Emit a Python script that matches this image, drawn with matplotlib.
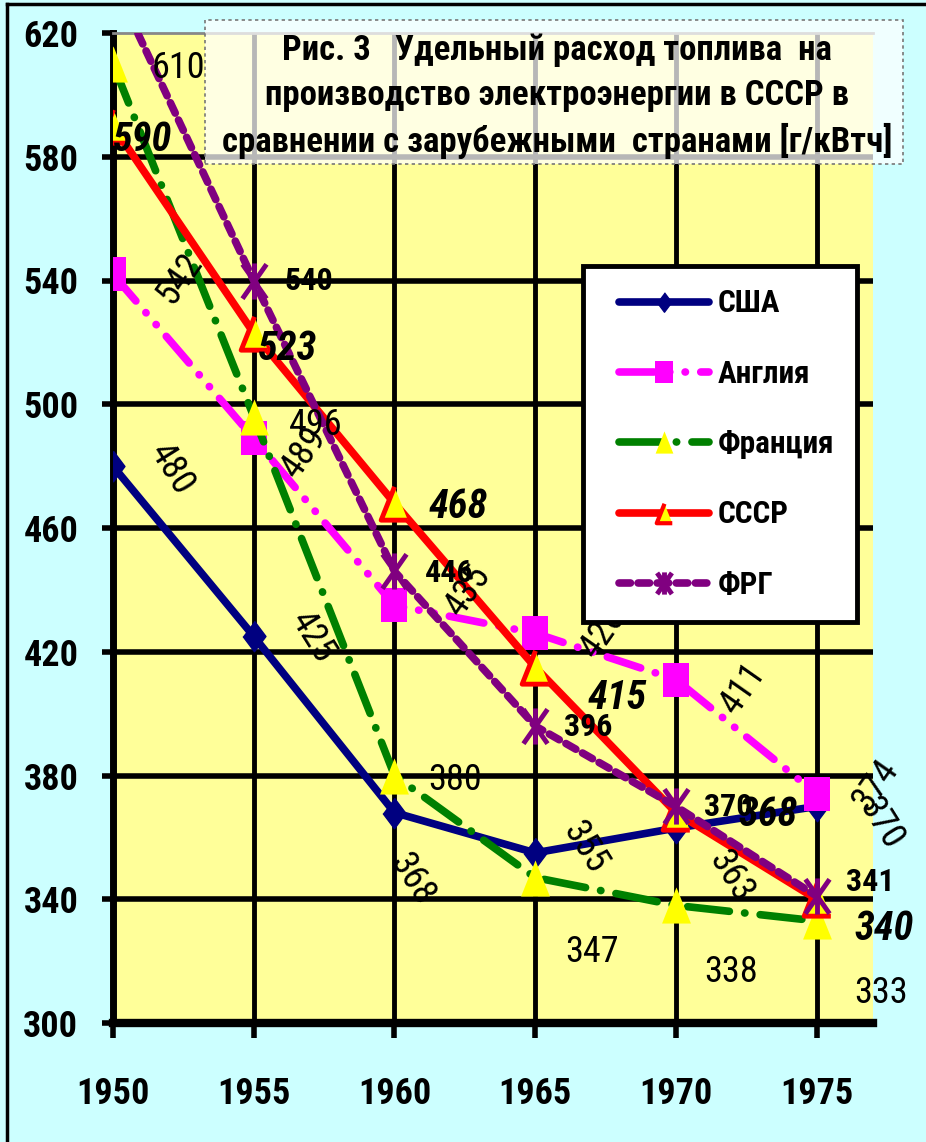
import os
import matplotlib
matplotlib.use("Agg")
import matplotlib.pyplot as plt
from matplotlib import font_manager as fm
from matplotlib.path import Path
from matplotlib.patches import Rectangle
from matplotlib.lines import Line2D
from matplotlib.legend_handler import HandlerLine2D

# ---- data -------------------------------------------------------------
years = [1950, 1955, 1960, 1965, 1970, 1975]
usa = [480, 425, 368, 355, 363, 370]
england = [542, 489, 435, 426, 411, 374]
france = [610, 496, 380, 347, 338, 333]
ussr = [590, 523, 468, 415, 368, 340]
frg = [637, 540, 446, 396, 370, 341]

series_names = ["США", "Англия", "Франция", "СССР", "ФРГ"]
y_ticks = [300, 340, 380, 420, 460, 500, 540, 580, 620]
title_lines = [
    "Рис. 3   Удельный расход топлива  на",
    "производство электроэнергии в СССР в",
    "сравнении с зарубежными  странами [г/кВтч]",
]

# ---- narrow font lookup ---------------------------------------------------
FONT_PATTERNS = ["liberationsansnarrow", "arialn", "robotocondensed",
                 "notosans-condensed", "opensans-condensed", "opensanscondensed",
                 "dejavusanscondensed", "liberationsans-", "roboto-"]


def _weight(entry):
    w = entry.weight
    if isinstance(w, str):
        w = fm.weight_dict.get(w, 400)
    return int(w)


def narrow_font(bold=False, italic=False, size=12):
    best, rank = None, len(FONT_PATTERNS)
    for entry in fm.fontManager.ttflist:
        base = os.path.basename(entry.fname).lower().replace(" ", "").replace("_", "")
        w = _weight(entry)
        if (w == 700) != bold or (not bold and w != 400):
            continue
        if (entry.style in ("italic", "oblique")) != italic:
            continue
        for i, pat in enumerate(FONT_PATTERNS):
            if pat in base and i < rank:
                best, rank = entry.fname, i
                break
    if best is None:
        return fm.FontProperties(family="Liberation Sans",
                                 weight="bold" if bold else "normal",
                                 style="italic" if italic else "normal", size=size)
    return fm.FontProperties(fname=best, size=size)


# ---- figure geometry (pixels) ----------------------------------------
W, H = 926, 1142
def fx(x):
    return x / W
def fy(y):
    return 1 - y / H

BG = "#CCFFFF"
PLOT_BG = "#FFFF99"

fig = plt.figure(figsize=(W / 100, H / 100), dpi=100)
fig.patch.set_facecolor(BG)

ax = fig.add_axes([fx(113), fy(1023), (873 - 113) / W, (1023 - 33) / H])
ax.set_facecolor(PLOT_BG)
ax.set_xlim(1950, 1977)
ax.set_ylim(300, 620)

# grid
for v in y_ticks[1:-1]:
    ax.axhline(v, color="black", lw=4, zorder=1)
for yr in years[1:]:
    ax.axvline(yr, color="black", lw=3.5, zorder=1)

ax.spines["right"].set_visible(False)
ax.spines["top"].set_color("#888888")
ax.spines["top"].set_linewidth(2)
ax.spines["left"].set_linewidth(5)
ax.spines["bottom"].set_linewidth(6)

ax.set_yticks(y_ticks)
ax.set_xticks(years)
ax.tick_params(axis="y", direction="out", length=8, width=4, pad=17)
ax.tick_params(axis="x", direction="out", length=11, width=4, pad=27)
tick_fp = narrow_font(bold=True, size=26)
for lab in ax.get_yticklabels() + ax.get_xticklabels():
    lab.set_fontproperties(tick_fp)

# ---- markers ------------------------------------------------------------
tri = [(0, 1), (-0.8, -1), (0.8, -1)]
rect = [(-0.8, -1), (0.8, -1), (0.8, 1), (-0.8, 1)]
diam = [(0, 1), (0.75, 0), (0, -1), (-0.75, 0)]
star = Path(
    [(-0.7, -1), (0.7, 1), (-0.7, 1), (0.7, -1), (0, -1.05), (0, 1.05)],
    [Path.MOVETO, Path.LINETO, Path.MOVETO, Path.LINETO, Path.MOVETO, Path.LINETO],
)

common = dict(solid_capstyle="round", dash_capstyle="round",
              solid_joinstyle="round", dash_joinstyle="round", zorder=3)

l_usa, = ax.plot(years, usa, color="#000080", lw=5.5, marker=diam, ms=22,
                 mfc="#000080", mec="#000080", mew=1, label=series_names[0], **common)
l_eng, = ax.plot(years, england, color="#FF00FF", lw=5.5, marker=rect, ms=24,
                 mfc="#FF00FF", mec="#FF00FF", mew=0, label=series_names[1],
                 dashes=(4.6, 2, 0.05, 2, 0.05, 2), **common)
l_fra, = ax.plot(years, france, color="#008000", lw=5.5, marker=tri, ms=26,
                 mfc="#FFFF00", mec="#FFFF00", mew=0, label=series_names[2],
                 dashes=(5.5, 2, 0.05, 2), **common)
l_ussr, = ax.plot(years, ussr, color="#FF0000", lw=5.5, marker=tri, ms=24,
                  mfc="#FFFF00", mec="#FF0000", mew=3.5, label=series_names[3], **common)
l_frg, = ax.plot(years, frg, color="#800080", lw=5.5, marker=star, ms=26,
                 mfc="#800080", mec="#800080", mew=3.5, label=series_names[4],
                 dashes=(1.5, 1.0), **common)

# ---- value labels (offsets in pixels: right, down) -------------------------
def put_labels(vals, offs, fp, rotation=0):
    for x, v, (dx, dy) in zip(years, vals, offs):
        ax.annotate(str(v), (x, v), xytext=(dx, -dy), textcoords="offset pixels",
                    ha="center", va="center", fontproperties=fp, zorder=10,
                    rotation=rotation, annotation_clip=True)

put_labels(usa, [(59, 3), (59, 1), (17, 67), (50, -5), (55, 48), (64, 17)],
           narrow_font(size=26), rotation=-58)
put_labels(england, [(67, 4), (50, 14), (74, -15), (68, -1), (67, 9), (59, -9)],
           narrow_font(size=26), rotation=55)
put_labels(france, [(65, 4), (62, 8), (61, 4), (57, 74), (55, 67), (64, 72)],
           narrow_font(size=26))
put_labels(ussr, [(30, 14), (34, 16), (64, 4), (82, 31), (92, 2), (67, 30)],
           narrow_font(bold=True, italic=True, size=29))
put_labels(frg, [(0, 0), (55, 1), (55, 2), (53, 1), (52, 1), (54, -14)],
           narrow_font(bold=True, size=23))

# ---- legend -------------------------------------------------------------
leg_handles = [l_usa, l_eng, l_fra, l_ussr, l_frg]
leg = ax.legend(handles=leg_handles,
                handler_map={h: HandlerLine2D(xpad=0.42) for h in leg_handles},
                loc="upper left", bbox_to_anchor=(fx(583), fy(266)),
                bbox_transform=fig.transFigure, borderaxespad=0,
                prop=narrow_font(bold=True, size=22.5),
                handlelength=3.32, handletextpad=0.28, labelspacing=1.29,
                borderpad=0.72, fancybox=False, framealpha=1,
                facecolor="white", edgecolor="black")
leg.get_frame().set_linewidth(3.5)
leg.set_zorder(20)
for h, ms in zip(leg.legend_handles, [14, 16, 16, 14, 16]):
    h.set_markersize(ms)
leg.legend_handles[3].set_markeredgewidth(3)

# ---- title box ------------------------------------------------------------
fig.patches.append(Rectangle((fx(205), fy(164)), (903 - 205) / W, (164 - 20) / H,
                             transform=fig.transFigure, facecolor="white",
                             alpha=0.72, edgecolor="none", zorder=30))
fig.patches.append(Rectangle((fx(205), fy(164)), (903 - 205) / W, (164 - 20) / H,
                             transform=fig.transFigure, facecolor="none",
                             edgecolor="#777777", lw=1.2, ls=(0, (2, 2)), zorder=31))
title_fp = narrow_font(bold=True, size=25)
for i, line in enumerate(title_lines):
    fig.text(fx(557), fy(50 + 45.5 * i), line, ha="center", va="center",
             fontproperties=title_fp, zorder=32)

# ---- outer frame ------------------------------------------------------------
fig.add_artist(Line2D([fx(7), fx(7)], [fy(4), 0], transform=fig.transFigure,
                      color="black", lw=2.5))
fig.add_artist(Line2D([fx(7), 1], [fy(4), fy(4)], transform=fig.transFigure,
                      color="black", lw=2.5))

fig.savefig("out.png", dpi=100, facecolor=BG)
